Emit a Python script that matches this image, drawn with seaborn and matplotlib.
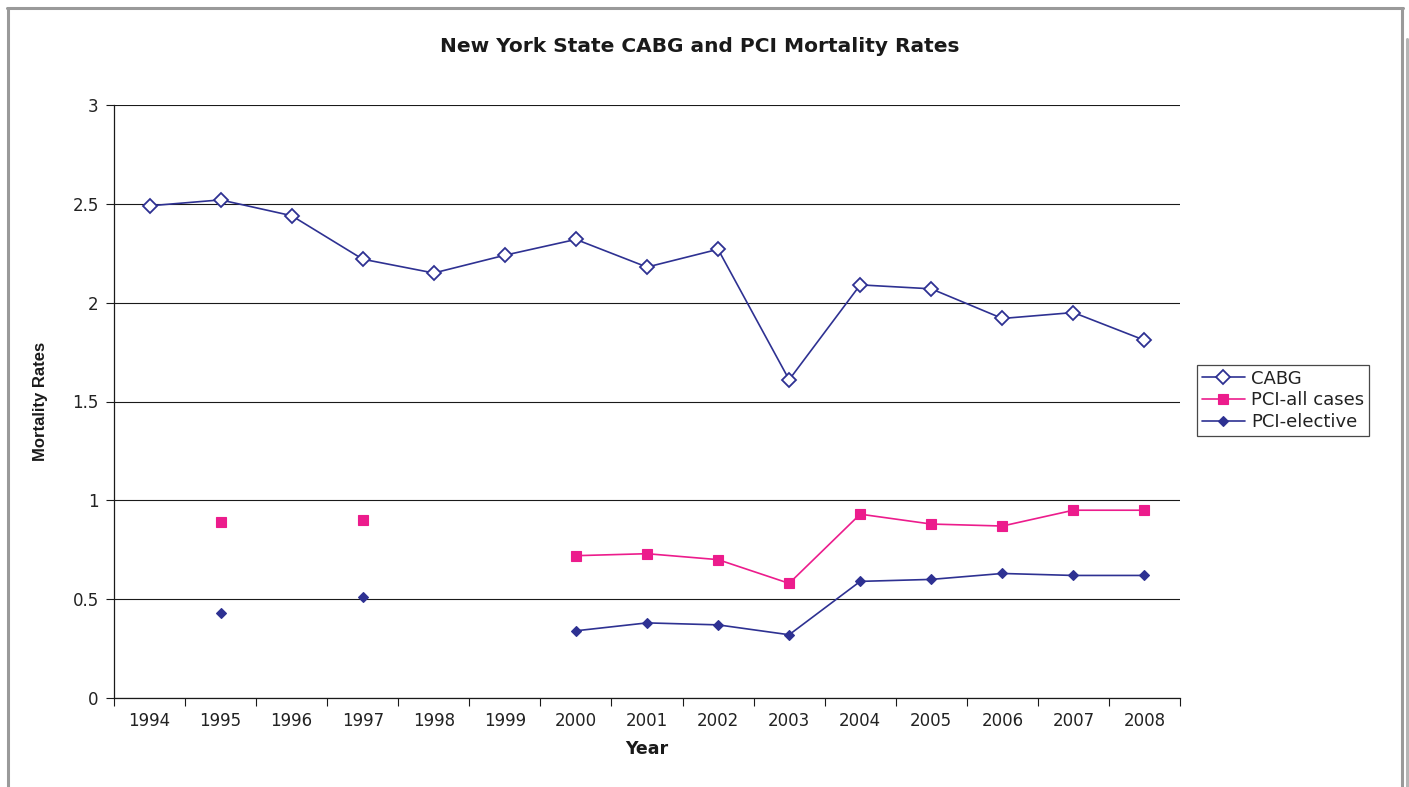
import numpy as np
import pandas as pd
import seaborn as sns
import matplotlib
matplotlib.use("Agg")
import matplotlib.pyplot as plt
from matplotlib.lines import Line2D
from matplotlib.ticker import FixedLocator, NullFormatter, FixedFormatter

years = ["1994", "1995", "1996", "1997", "1998", "1999", "2000", "2001",
         "2002", "2003", "2004", "2005", "2006", "2007", "2008"]
cabg = [2.49, 2.52, 2.44, 2.22, 2.15, 2.24, 2.32, 2.18, 2.27, 1.61,
        2.09, 2.07, 1.92, 1.95, 1.81]
pci_all = [np.nan, 0.89, np.nan, 0.90, np.nan, np.nan, 0.72, 0.73,
           0.70, 0.58, 0.93, 0.88, 0.87, 0.95, 0.95]
pci_elective = [np.nan, 0.43, np.nan, 0.51, np.nan, np.nan, 0.34, 0.38,
                0.37, 0.32, 0.59, 0.60, 0.63, 0.62, 0.62]

NAVY = "#2E3192"
MAGENTA = "#EC1C8C"

sns.set_style("white")
plt.rcParams["font.family"] = ["DejaVu Sans"]

fig = plt.figure(figsize=(14.09, 7.87), dpi=100)
ax = fig.add_axes([114 / 1409, 1 - 698 / 787, (1180 - 114) / 1409, (698 - 105) / 787])


def frame(values):
    df = pd.DataFrame({"pos": np.arange(len(years)), "val": values})
    df["segment"] = df["val"].isna().cumsum()
    return df.dropna()


series = [
    ("CABG", cabg, dict(color=NAVY, marker="D", markersize=6.8,
                        markerfacecolor="white", markeredgecolor=NAVY,
                        markeredgewidth=1.3)),
    ("PCI-all cases", pci_all, dict(color=MAGENTA, marker="s", markersize=6.8,
                                    markerfacecolor=MAGENTA, markeredgecolor=MAGENTA,
                                    markeredgewidth=0.8)),
    ("PCI-elective", pci_elective, dict(color=NAVY, marker="D", markersize=5.2,
                                        markerfacecolor=NAVY, markeredgecolor=NAVY,
                                        markeredgewidth=0.8)),
]

handles = []
for name, vals, style in series:
    df = frame(vals)
    sns.lineplot(data=df, x="pos", y="val", units="segment", estimator=None,
                 ax=ax, linewidth=1.2, legend=False, **style)
    handles.append(Line2D([], [], linewidth=1.2, label=name, **style))

ax.set_xlim(-0.5, len(years) - 0.5)
ax.set_ylim(0, 3)

# y axis
ax.set_yticks([0, 0.5, 1, 1.5, 2, 2.5, 3])
ax.set_yticklabels(["0", "0.5", "1", "1.5", "2", "2.5", "3"])
ax.yaxis.grid(True, color="#1a1a1a", linewidth=0.8)
ax.xaxis.grid(False)
ax.tick_params(axis="y", which="major", direction="out", length=6, width=0.8,
               color="#1a1a1a", labelsize=12, labelcolor="#222222", pad=5, left=True)

# x axis: ticks at category boundaries, labels at centers
ax.xaxis.set_major_locator(FixedLocator(np.arange(-0.5, len(years), 1.0)))
ax.xaxis.set_major_formatter(NullFormatter())
ax.xaxis.set_minor_locator(FixedLocator(np.arange(len(years))))
ax.xaxis.set_minor_formatter(FixedFormatter(years))
ax.tick_params(axis="x", which="major", direction="out", length=6, width=0.8,
               color="#1a1a1a", bottom=True)
ax.tick_params(axis="x", which="minor", length=0, labelsize=12,
               labelcolor="#222222", pad=10, bottom=True)

for side in ["top", "right"]:
    ax.spines[side].set_visible(False)
for side in ["left", "bottom"]:
    ax.spines[side].set_visible(True)
    ax.spines[side].set_color("#1a1a1a")
    ax.spines[side].set_linewidth(0.9)

ax.set_xlabel("Year", fontsize=12.5, fontweight="bold", color="#1a1a1a")
ax.set_ylabel("Mortality Rates", fontsize=12, fontweight="bold", color="#1a1a1a",
              family=["Liberation Sans", "DejaVu Sans"])
ax.xaxis.set_label_coords(0.5, -0.07)
ax.yaxis.set_label_coords(-0.062, 0.5)

fig.text(700 / 1409, 1 - 47 / 787, "New York State CABG and PCI Mortality Rates",
         ha="center", va="center", fontsize=14.5, fontweight="bold", color="#1a1a1a")

leg = fig.legend(handles=handles, loc="upper left",
                 bbox_to_anchor=(1197 / 1409, 1 - 365 / 787),
                 fontsize=13, frameon=True, fancybox=False, edgecolor="#1a1a1a",
                 borderpad=0.25, labelspacing=0.22, handlelength=2.4,
                 handletextpad=0.35, borderaxespad=0)
leg.get_frame().set_linewidth(0.9)
for t in leg.get_texts():
    t.set_color("#222222")

# page frame
gray = "#9a9a9a"
fig.add_artist(Line2D([7.5 / 1409, 7.5 / 1409], [0, 1 - 7.5 / 787], color=gray,
                      linewidth=2.2, transform=fig.transFigure))
fig.add_artist(Line2D([6.5 / 1409, 1403 / 1409], [1 - 7.5 / 787, 1 - 7.5 / 787],
                      color=gray, linewidth=2.2, transform=fig.transFigure))
fig.add_artist(Line2D([1402 / 1409, 1402 / 1409], [0, 1 - 7.5 / 787], color=gray,
                      linewidth=2.2, transform=fig.transFigure))
fig.add_artist(Line2D([1407 / 1409, 1407 / 1409], [0, 1 - 39 / 787], color="#b5b5b5",
                      linewidth=2.2, transform=fig.transFigure))

fig.savefig("out.png", dpi=100)
